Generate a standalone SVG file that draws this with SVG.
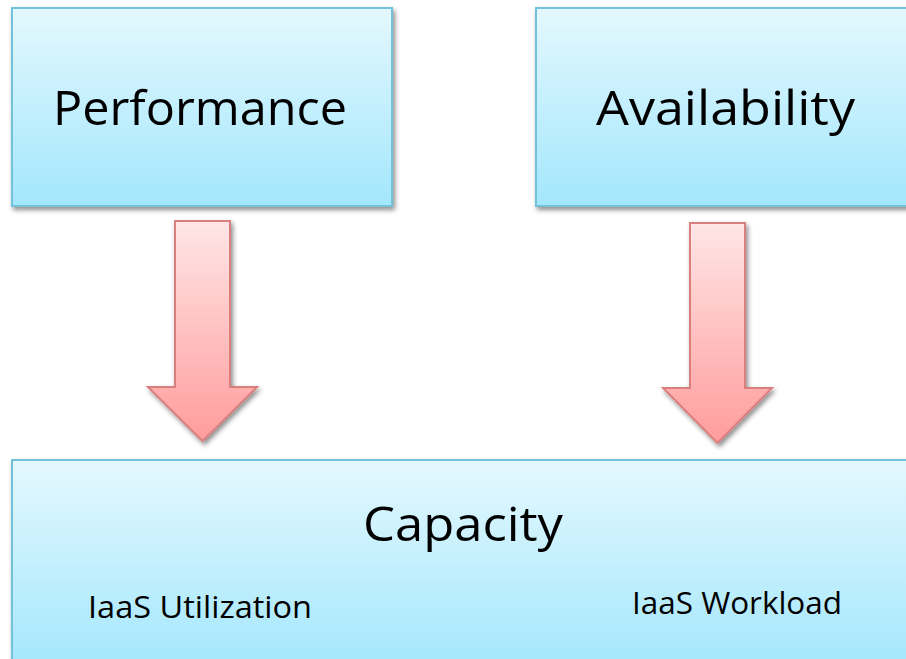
<svg xmlns="http://www.w3.org/2000/svg" width="906" height="659" viewBox="0 0 906 659">
<defs>
<linearGradient id="blue" x1="0" y1="0" x2="0" y2="1">
<stop offset="0" stop-color="#e4f8fe"/>
<stop offset="1" stop-color="#a3e7fc"/>
</linearGradient>
<linearGradient id="red" x1="0" y1="0" x2="0" y2="1">
<stop offset="0" stop-color="#ffe6e6"/>
<stop offset="1" stop-color="#ff9c9c"/>
</linearGradient>
<filter id="sh" x="-10%" y="-10%" width="130%" height="130%">
<feGaussianBlur in="SourceAlpha" stdDeviation="2.5"/>
<feOffset dx="2" dy="3" result="b"/>
<feComponentTransfer><feFuncA type="linear" slope="0.45"/></feComponentTransfer>
<feMerge><feMergeNode/><feMergeNode in="SourceGraphic"/></feMerge>
</filter>
</defs>
<style>
.box{fill:url(#blue);stroke:#72c3d9;stroke-width:2;filter:url(#sh)}
.arr{fill:url(#red);stroke:#d9807f;stroke-width:2;stroke-linejoin:miter;filter:url(#sh)}
.big{font-family:"Open Sans","Liberation Sans",sans-serif;font-size:48px;fill:#000;text-anchor:middle}
.small{font-family:"Open Sans","Liberation Sans",sans-serif;font-size:31px;fill:#000}
</style>
<g id="performance">
<rect class="box" x="12" y="8" width="380" height="198"/>
<text class="big" x="200" y="125" textLength="294" lengthAdjust="spacingAndGlyphs">Performance</text>
</g>
<g id="availability">
<rect class="box" x="536" y="8" width="380" height="198"/>
<text class="big" x="725.5" y="125" textLength="259" lengthAdjust="spacingAndGlyphs">Availability</text>
</g>
<g id="capacity">
<rect class="box" x="12" y="460" width="904" height="210"/>
<text class="big" x="463" y="541" textLength="200" lengthAdjust="spacingAndGlyphs">Capacity</text>
<text class="small" x="88" y="618" textLength="224" lengthAdjust="spacingAndGlyphs">IaaS Utilization</text>
<text class="small" x="632" y="614" textLength="210" lengthAdjust="spacingAndGlyphs">IaaS Workload</text>
</g>
<g id="connectors">
<path class="arr" d="M175,221 H230 V387 H257 L202.5,441 L148,387 H175 Z"/>
<path class="arr" d="M690,223 H745 V388 H772 L717.5,443 L663,388 H690 Z"/>
</g>
</svg>
